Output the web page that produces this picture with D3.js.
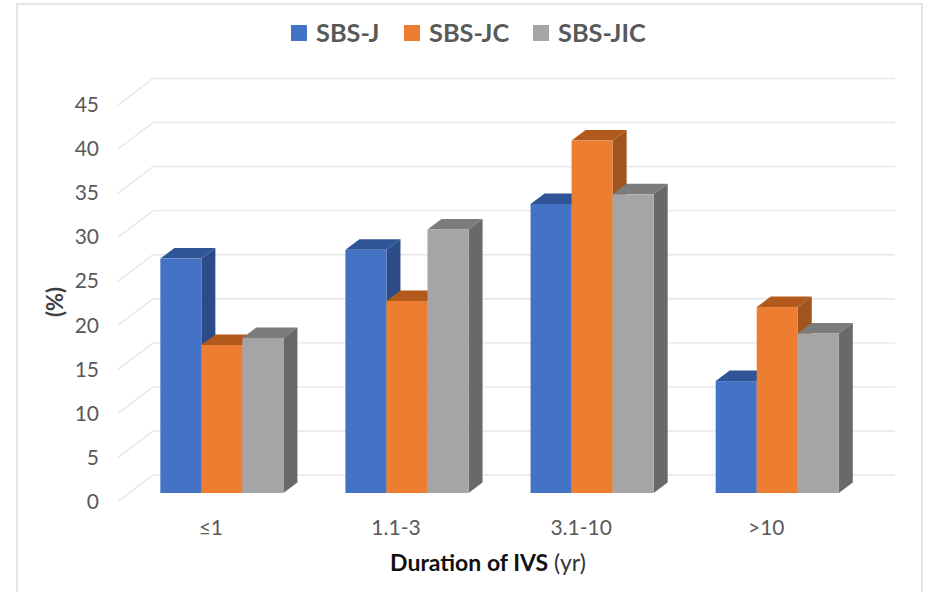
<!DOCTYPE html>
<html>
<head>
<meta charset="utf-8">
<script src="https://cdn.jsdelivr.net/npm/d3@7"></script>
<style>
  html, body { margin: 0; padding: 0; background: #fff; }
  svg { display: block; font-family: Lato, "Open Sans", sans-serif; }
</style>
</head>
<body>
<svg id="chart"></svg>
<script>
const categories = ["≤1", "1.1-3", "3.1-10", ">10"];
const series = ["SBS-J", "SBS-JC", "SBS-JIC"];
const sbsJ = [26.6, 27.6, 32.8, 12.7];
const sbsJC = [16.8, 21.8, 40, 21.1];
const sbsJIC = [17.6, 29.9, 33.9, 18.1];
const yTicks = [0, 5, 10, 15, 20, 25, 30, 35, 40, 45];

const values = [sbsJ, sbsJC, sbsJIC];
const front = ["#4472c4", "#ed7d31", "#a5a5a5"];
const top_ = ["#2f5597", "#b15a1c", "#7c7c7c"];
const side = ["#2c4c88", "#a2541e", "#696969"];

const width = 928, height = 592;

let svg = d3.select("#chart")
  .attr("width", width)
  .attr("height", height);

// picture border
svg.append("rect")
  .attr("x", 17).attr("y", 4)
  .attr("width", 905).attr("height", 600)
  .attr("fill", "#fff")
  .attr("stroke", "#dcdcdc")
  .attr("stroke-width", 1.5);

// three y scales: wall front edge, wall back edge, bar plane
const yFront = d3.scaleLinear().domain([0, 45]).range([501.5, 105]);
const yBack = d3.scaleLinear().domain([0, 45]).range([475, 78.5]);
const yBar = d3.scaleLinear().domain([0, 45]).range([493, 96.5]);

const xFrontEdge = 118, xBackEdge = 153, xRight = 895;
// depth of the bars themselves
const dx = 14, dy = -10.5;

const xGroup = d3.scaleBand()
  .domain(categories)
  .range([129.3, 869.8])
  .paddingInner(0.335)
  .paddingOuter(0.1675);
const xSeries = d3.scaleBand()
  .domain(series)
  .range([0, xGroup.bandwidth()]);

// walls
let walls = svg.append("g")
  .attr("fill", "none")
  .attr("stroke", "#e6e6e6")
  .attr("stroke-width", 1.4);
walls.selectAll("path")
  .data(yTicks)
  .join("path")
  .attr("d", (t) => `M${xFrontEdge},${yFront(t)}L${xBackEdge},${yBack(t)}H${xRight}`);

// bars, drawn blue to grey so each front covers the previous side
let bars = svg.append("g");
categories.forEach((cat, c) => {
  series.forEach((s, i) => {
    let x0 = xGroup(cat) + xSeries(s);
    let x1 = x0 + xSeries.bandwidth();
    let y0 = yBar(0);
    let y1 = yBar(values[i][c]);
    let g = bars.append("g");
    g.append("path")
      .attr("fill", top_[i])
      .attr("d", `M${x0},${y1}L${x0 + dx},${y1 + dy}H${x1 + dx}L${x1},${y1}Z`);
    g.append("path")
      .attr("fill", side[i])
      .attr("d", `M${x1},${y1}L${x1 + dx},${y1 + dy}V${y0 + dy}L${x1},${y0}Z`);
    g.append("rect")
      .attr("x", x0).attr("y", y1)
      .attr("width", x1 - x0).attr("height", y0 - y1)
      .attr("fill", front[i]);
  });
});

// y axis
let yAxis = svg.append("g")
  .attr("transform", `translate(${xFrontEdge},0)`)
  .call(d3.axisLeft(yFront).tickValues(yTicks).tickSize(0).tickPadding(19));
yAxis.select(".domain").remove();
yAxis.selectAll("text")
  .attr("font-size", 21)
  .attr("font-family", "Lato")
  .attr("fill", "#595959");

// x axis, labels sit left of the bars because of the depth
let xAxis = svg.append("g")
  .attr("transform", "translate(-11,515)")
  .call(d3.axisBottom(xGroup).tickSize(0).tickPadding(5));
xAxis.select(".domain").remove();
xAxis.selectAll("text")
  .attr("font-size", 21)
  .attr("font-family", "Lato")
  .attr("fill", "#595959");

// axis titles
let xTitle = svg.append("text")
  .attr("x", 488).attr("y", 571)
  .attr("text-anchor", "middle")
  .attr("font-size", 23)
  .attr("fill", "#111");
xTitle.append("tspan").attr("font-weight", 700).text("Duration of IVS");
xTitle.append("tspan").attr("fill", "#333").text(" (yr)");

svg.append("text")
  .attr("transform", "translate(63,302) rotate(-90)")
  .attr("text-anchor", "middle")
  .attr("font-size", 22)
  .attr("font-weight", 700)
  .attr("fill", "#404040")
  .text("(%)");

// legend
const legendX = [291, 404, 533];
let legend = svg.append("g");
series.forEach((s, i) => {
  legend.append("rect")
    .attr("x", legendX[i]).attr("y", 25)
    .attr("width", 16).attr("height", 16)
    .attr("fill", front[i]);
  legend.append("text")
    .attr("x", legendX[i] + 25).attr("y", 42)
    .attr("font-size", 25.3)
    .attr("font-weight", 700)
    .attr("fill", "#595959")
    .text(s);
});
</script>
</body>
</html>
